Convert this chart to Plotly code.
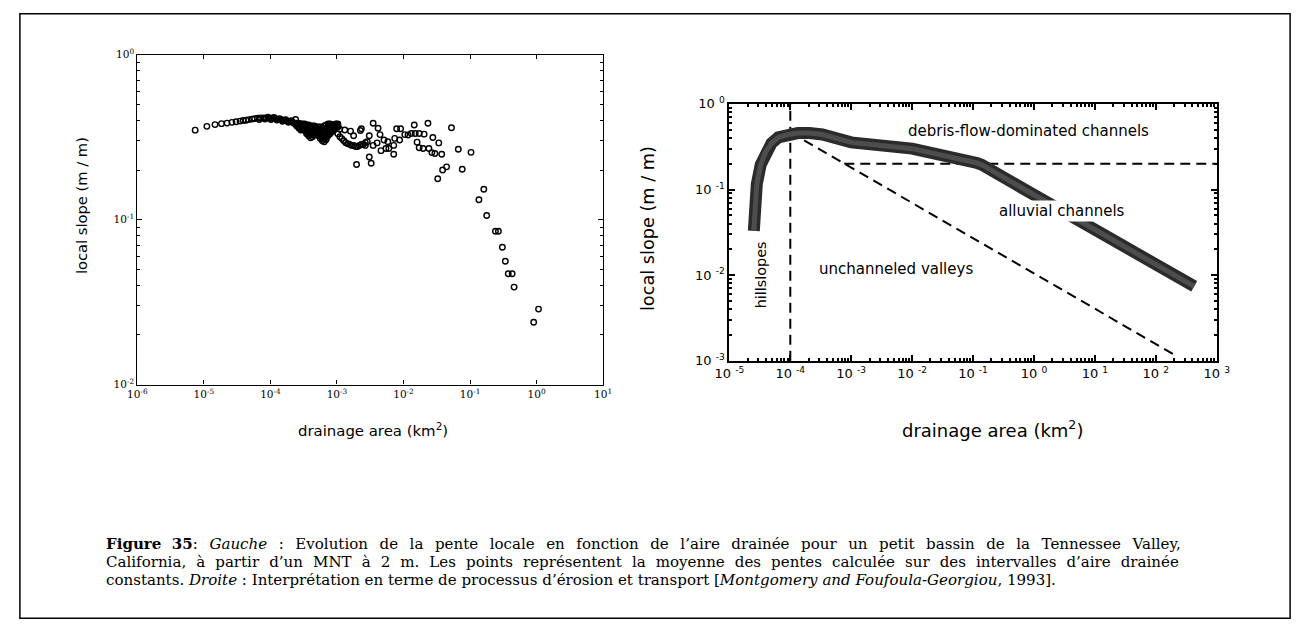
import plotly.graph_objects as go

W, H = 1308, 631

# ---------------- Left panel data (drainage area km2, local slope m/m) ----------------
low_area = [7.4e-6, 1.11e-5, 1.47e-5, 1.84e-5, 2.23e-5, 2.64e-5, 3.05e-5, 3.5e-5, 3.9e-5,
            4.3e-5, 4.7e-5, 5.3e-5, 5.8e-5, 6.4e-5, 7.1e-5, 7.9e-5, 8.7e-5, 9.7e-5, 1.07e-4,
            1.19e-4, 1.31e-4, 1.45e-4, 1.61e-4, 1.78e-4, 1.97e-4, 2.18e-4, 2.39e-4,
            6.8e-5, 8.3e-5, 9.2e-5, 1.02e-4, 1.13e-4, 1.25e-4, 1.38e-4, 1.52e-4, 1.7e-4,
            1.87e-4, 2.07e-4, 2.29e-4]
low_slope = [0.349, 0.368, 0.377, 0.382, 0.385, 0.389, 0.392, 0.396, 0.399,
             0.401, 0.404, 0.407, 0.410, 0.412, 0.414, 0.414, 0.414, 0.412, 0.412,
             0.410, 0.407, 0.404, 0.401, 0.396, 0.393, 0.388, 0.405,
             0.405, 0.407, 0.418, 0.405, 0.416, 0.402, 0.410, 0.395, 0.404,
             0.389, 0.398, 0.383]

cluster_area = [2.49e-4, 2.67e-4, 2.86e-4, 3.06e-4, 3.27e-4, 3.5e-4, 3.75e-4, 4.01e-4, 4.29e-4,
                4.59e-4, 4.92e-4, 5.26e-4, 5.62e-4, 6.02e-4, 6.44e-4, 6.89e-4, 7.37e-4, 7.89e-4,
                8.44e-4, 9.04e-4, 9.67e-4, 1.03e-3]
cluster_slope_upper = [0.385, 0.385, 0.380, 0.380, 0.380, 0.375, 0.375, 0.370, 0.370, 0.370, 0.365,
                       0.365, 0.365, 0.360, 0.370, 0.375, 0.380, 0.380, 0.375, 0.375, 0.380, 0.380]
cluster_slope_upper_mid = [0.380, 0.378, 0.372, 0.372, 0.370, 0.362, 0.360, 0.355, 0.355, 0.358, 0.358,
                           0.353, 0.348, 0.342, 0.344, 0.351, 0.360, 0.365, 0.365, 0.368, 0.375, 0.375]
cluster_slope_mid = [0.375, 0.370, 0.365, 0.365, 0.360, 0.350, 0.346, 0.341, 0.341, 0.346, 0.350,
                     0.341, 0.332, 0.323, 0.318, 0.327, 0.341, 0.350, 0.355, 0.360, 0.370, 0.370]
cluster_slope_mid_lower = [0.372, 0.365, 0.357, 0.360, 0.353, 0.341, 0.334, 0.327, 0.329, 0.336, 0.343,
                           0.332, 0.321, 0.312, 0.307, 0.316, 0.332, 0.341, 0.348, 0.355, 0.365, 0.368]
cluster_slope_lower = [0.370, 0.360, 0.350, 0.355, 0.346, 0.332, 0.323, 0.314, 0.318, 0.327, 0.336,
                       0.323, 0.310, 0.301, 0.297, 0.306, 0.323, 0.332, 0.341, 0.350, 0.360, 0.365]

tail_area = [1.03e-3, 1.107e-3, 1.184e-3, 1.268e-3, 1.356e-3, 1.451e-3, 1.553e-3, 1.661e-3,
             1.778e-3, 1.903e-3, 2.036e-3, 2.179e-3, 2.33e-3, 2.49e-3, 2.67e-3, 2.86e-3]
tail_slope = [0.332, 0.318, 0.310, 0.301, 0.293, 0.289, 0.286, 0.282,
              0.282, 0.278, 0.278, 0.282, 0.286, 0.286, 0.293, 0.297]

scatter_area = [9.7e-4, 1.1e-3, 1.31e-3, 1.6e-3, 1.78e-3, 2.33e-3, 2.25e-3, 2.67e-3, 3.06e-3, 1.97e-3,
                3.5e-3, 4.15e-3, 4.44e-3, 3.06e-3, 3.27e-3, 3.5e-3, 4.01e-3, 4.59e-3, 5.44e-3, 6.02e-3,
                5.09e-3, 5.82e-3, 7.13e-3, 7.13e-3, 7.89e-3, 9.04e-3, 7.38e-3, 8.74e-3, 1.045e-2, 1.17e-2,
                1.31e-2, 1.5e-2, 1.72e-2, 2.04e-2, 1.45e-2, 1.6e-2, 1.72e-2, 1.97e-2, 2.33e-2, 2.41e-2,
                2.67e-2, 2.96e-2, 3.75e-2, 2.76e-2, 3.39e-2, 3.27e-2, 3.87e-2, 4.44e-2, 5.26e-2, 6.66e-2,
                7.63e-2, 0.1034, 0.136, 0.161, 0.178, 0.241, 0.267, 0.306, 0.339, 0.375,
                0.429, 0.459, 0.904, 1.07]
scatter_slope = [0.379, 0.353, 0.350, 0.344, 0.323, 0.356, 0.347, 0.282, 0.323, 0.216,
                 0.384, 0.358, 0.328, 0.240, 0.220, 0.282, 0.292, 0.262, 0.270, 0.270,
                 0.304, 0.297, 0.282, 0.249, 0.356, 0.356, 0.311, 0.304, 0.328, 0.326,
                 0.333, 0.333, 0.333, 0.330, 0.375, 0.295, 0.273, 0.270, 0.384, 0.270,
                 0.255, 0.252, 0.249, 0.315, 0.292, 0.177, 0.200, 0.209, 0.361, 0.267,
                 0.202, 0.256, 0.132, 0.153, 0.106, 0.085, 0.085, 0.068, 0.056, 0.047,
                 0.047, 0.039, 0.0239, 0.0287]

left_xticks = [1e-6, 1e-5, 1e-4, 1e-3, 1e-2, 1e-1, 1, 10]
left_xlabels = ["10<sup>-6</sup>", "10<sup>-5</sup>", "10<sup>-4</sup>", "10<sup>-3</sup>",
                "10<sup>-2</sup>", "10<sup>-1</sup>", "10<sup>0</sup>", "10<sup>1</sup>"]
left_yticks = [0.01, 0.1, 1]
left_ylabels = ["10<sup>-2</sup>", "10<sup>-1</sup>", "10<sup>0</sup>"]

# ---------------- Right panel data ----------------
band_area = [2.52e-5, 2.62e-5, 2.82e-5, 3.27e-5, 3.93e-5, 4.91e-5, 6.36e-5, 9.2e-5, 1.33e-4,
             2.08e-4, 3.36e-4, 1e-3, 1e-2, 0.116, 0.138, 0.74, 427]
band_slope = [0.0329, 0.0685, 0.1155, 0.195, 0.274, 0.347, 0.406, 0.439, 0.456,
              0.456, 0.439, 0.355, 0.30, 0.204, 0.195, 0.098, 0.0074]
hillslope_limit_area = [1e-4, 1e-4]
hillslope_limit_slope = [1e-3, 1]
valley_area = [1e-4, 227]
valley_slope = [0.465, 0.00112]
debris_area = [7.7e-4, 1000]
debris_slope = [0.2, 0.2]

right_xticks = [1e-5, 1e-4, 1e-3, 1e-2, 1e-1, 1, 10, 100, 1000]
right_xlabels = ["10 <sup>-5</sup>", "10 <sup>-4</sup>", "10 <sup>-3</sup>", "10 <sup>-2</sup>",
                 "10 <sup>-1</sup>", "10 <sup>0</sup>", "10 <sup>1</sup>", "10 <sup>2</sup>", "10 <sup>3</sup>"]
right_yticks = [1e-3, 1e-2, 1e-1, 1]
right_ylabels = ["10 <sup>-3</sup>", "10 <sup>-2</sup>", "10 <sup>-1</sup>", "10 <sup>0</sup>"]

caption_lines = [
    "<b>Figure\u00a0\u00a035</b>: <i>Gauche</i> : Evolution de la pente locale en fonction de l\u2019aire drainée pour un petit bassin de la Tennessee Valley,",
    "California, à partir d\u2019un MNT à 2 m. Les points représentent la moyenne des pentes calculée sur des intervalles d\u2019aire drainée",
    "constants. <i>Droite</i> : Interprétation en terme de processus d\u2019érosion et transport [<i>Montgomery and Foufoula-Georgiou</i>, 1993].",
]
# extra word spacing that imitates the justified lines of the original caption
caption_word_gap = [" \u2005\u2009", " \u2005\u200a", " "]

# ---------------- helpers (pixel -> paper) ----------------
def px(x):
    return x / W


def py(y):
    return 1 - y / H


SANS = "DejaVu Sans, Arial, sans-serif"
SERIF = "DejaVu Serif, Times New Roman, serif"


def minor_vals(d0, d1):
    return [k * 10.0 ** d for d in range(d0, d1) for k in range(2, 10)]


fig = go.Figure()

# left scatter
left_area = low_area + cluster_area * 5 + tail_area + scatter_area
left_slope = (low_slope + cluster_slope_upper + cluster_slope_upper_mid + cluster_slope_mid
              + cluster_slope_mid_lower + cluster_slope_lower + tail_slope + scatter_slope)
fig.add_trace(go.Scatter(
    x=left_area, y=left_slope, mode="markers", xaxis="x", yaxis="y",
    marker=dict(symbol="circle-open", size=5.5, color="black", line=dict(width=1.4, color="black")),
    showlegend=False, hoverinfo="skip"))

# right: dashed lines
dash_style = dict(color="black", width=2, dash="10px,6px")
fig.add_trace(go.Scatter(x=hillslope_limit_area, y=hillslope_limit_slope, mode="lines",
                         xaxis="x2", yaxis="y2", line=dash_style, showlegend=False, hoverinfo="skip"))
fig.add_trace(go.Scatter(x=valley_area, y=valley_slope, mode="lines",
                         xaxis="x2", yaxis="y2", line=dash_style, showlegend=False, hoverinfo="skip"))
fig.add_trace(go.Scatter(x=debris_area, y=debris_slope, mode="lines",
                         xaxis="x2", yaxis="y2", line=dash_style, showlegend=False, hoverinfo="skip"))
# right: thick band (dark stippled ribbon)
fig.add_trace(go.Scatter(x=band_area, y=band_slope, mode="lines", xaxis="x2", yaxis="y2",
                         line=dict(color="#2b2b2b", width=12), showlegend=False, hoverinfo="skip"))
fig.add_trace(go.Scatter(x=band_area, y=band_slope, mode="lines", xaxis="x2", yaxis="y2",
                         line=dict(color="#4d4d4d", width=5), showlegend=False, hoverinfo="skip"))

axis_common = dict(type="log", showgrid=False, zeroline=False, showline=True, linecolor="black",
                   mirror="ticks", ticks="inside", tickcolor="black")

fig.update_layout(
    width=W, height=H, margin=dict(l=0, r=0, t=0, b=0),
    paper_bgcolor="white", plot_bgcolor="white", showlegend=False,
    xaxis=dict(axis_common, domain=[px(125), px(601)], range=[-6, 1], anchor="y",
               linewidth=1.3, ticklen=4, tickwidth=1.2,
               tickmode="array", tickvals=left_xticks, ticktext=left_xlabels,
               tickfont=dict(family=SERIF, size=10.5, color="black")),
    yaxis=dict(axis_common, domain=[py(386), py(47)], range=[-2, 0], anchor="x",
               linewidth=1.3, ticklen=5, tickwidth=1.2,
               tickmode="array", tickvals=left_yticks, ticktext=left_ylabels,
               tickfont=dict(family=SERIF, size=10.5, color="black"),
               minor=dict(ticks="inside", ticklen=3, tickcolor="black", tickmode="array",
                          tickvals=minor_vals(-2, 0), showgrid=False)),
    xaxis2=dict(axis_common, domain=[px(730), px(1228)], range=[-5, 3], anchor="y2",
                linewidth=2, ticklen=6, tickwidth=1.5,
                tickmode="array", tickvals=right_xticks, ticktext=right_xlabels,
                tickfont=dict(family=SANS, size=13, color="black"),
                minor=dict(ticks="inside", ticklen=3, tickcolor="black", tickmode="array",
                           tickvals=minor_vals(-5, 3), showgrid=False)),
    yaxis2=dict(axis_common, domain=[py(361.5), py(97.5)], range=[-3, 0], anchor="x2",
                linewidth=2, ticklen=6, tickwidth=1.5,
                tickmode="array", tickvals=right_yticks, ticktext=right_ylabels,
                tickfont=dict(family=SANS, size=13, color="black"),
                minor=dict(ticks="inside", ticklen=3, tickcolor="black", tickmode="array",
                           tickvals=minor_vals(-3, 0), showgrid=False)),
)

ann = []


def add_text(x, y, text, size, family=SANS, angle=0, **kw):
    ann.append(dict(x=px(x), y=py(y), xref="paper", yref="paper", text=text, showarrow=False,
                    xanchor="center", yanchor="middle",
                    textangle=angle, font=dict(family=family, size=size, color="black"), **kw))


# axis titles
add_text(68, 202, "local slope (m / m)", 14.7, angle=-90)
add_text(366, 433, "drainage area (km<sup>2</sup>)", 14.9)
add_text(647, 226, "local slope (m / m)", 17.7, angle=-90)
add_text(999, 432, "drainage area (km<sup>2</sup>)", 18)

# right panel labels
add_text(1036, 125, "debris-flow-dominated channels", 15)
add_text(1070, 208, "alluvial channels", 15, bgcolor="white", borderpad=1)
add_text(900, 267, "unchanneled valleys", 15)
add_text(762, 273, "hillslopes", 14.4, angle=-90)

# caption
for i, (line, gap) in enumerate(zip(caption_lines, caption_word_gap)):
    text = line.replace(" ", gap)
    ann.append(dict(x=px(91), y=py(550 + 18.4 * i), xref="paper", yref="paper", text=text,
                    showarrow=False, xanchor="left", yanchor="middle", align="left",
                    font=dict(family=SERIF, size=15.05, color="black")))

fig.update_layout(annotations=ann)

# outer frame
fig.add_shape(type="rect", xref="paper", yref="paper", x0=px(5), x1=px(1303), y0=py(626), y1=py(5),
              line=dict(color="black", width=1.5), fillcolor="rgba(0,0,0,0)")

fig.write_html(
    "out.html",
    config={"displayModeBar": False},
    post_script="document.body.style.margin='0px';document.body.style.padding='0px';"
                "document.documentElement.style.overflow='hidden';",
)
